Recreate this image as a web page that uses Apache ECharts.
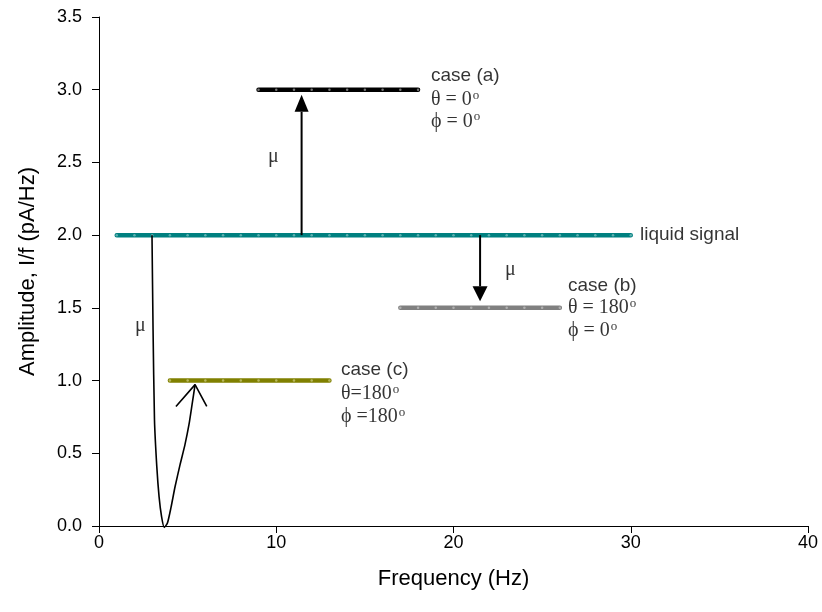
<!DOCTYPE html>
<html>
<head>
<meta charset="utf-8">
<script src="https://cdn.jsdelivr.net/npm/echarts@6/dist/echarts.min.js"></script>
<style>html,body{margin:0;padding:0;background:#fff}#c{width:822px;height:612px}</style>
</head>
<body>
<div id="c"></div>
<script>
// ---- data ----
const xTicks = [0, 10, 20, 30, 40];
const yTicks = [0, 0.5, 1.0, 1.5, 2.0, 2.5, 3.0, 3.5];

// horizontal level lines (data points every 1 Hz)
const caseAX = [9, 10, 11, 12, 13, 14, 15, 16, 17, 18];
const caseAY = [3, 3, 3, 3, 3, 3, 3, 3, 3, 3];
const liquidX = [1, 2, 3, 4, 5, 6, 7, 8, 9, 10, 11, 12, 13, 14, 15, 16, 17, 18, 19, 20, 21, 22, 23, 24, 25, 26, 27, 28, 29, 30];
const liquidY = [2, 2, 2, 2, 2, 2, 2, 2, 2, 2, 2, 2, 2, 2, 2, 2, 2, 2, 2, 2, 2, 2, 2, 2, 2, 2, 2, 2, 2, 2];
const caseBX = [17, 18, 19, 20, 21, 22, 23, 24, 25, 26];
const caseBY = [1.5, 1.5, 1.5, 1.5, 1.5, 1.5, 1.5, 1.5, 1.5, 1.5];
const caseCX = [4, 5, 6, 7, 8, 9, 10, 11, 12, 13];
const caseCY = [1, 1, 1, 1, 1, 1, 1, 1, 1, 1];

// straight arrows: [x0, y0, x1(tip), y1(tip)]
const arrowUp = [11.43, 2.0, 11.43, 2.965];
const arrowDown = [21.5, 2.0, 21.5, 1.545];

// curved arrow path (data coords)
const curveX = [2.99, 3.05, 3.13, 3.26, 3.39, 3.53, 3.68, 3.86, 4.06, 4.29, 4.57, 4.85, 5.08, 5.25, 5.42];
const curveY = [2.0, 1.35, 0.731, 0.41, 0.20, 0.064, -0.01, 0.02, 0.126, 0.27, 0.42, 0.56, 0.70, 0.835, 0.972];
const curveHeadX = [4.34, 5.42, 6.08];
const curveHeadY = [0.822, 0.972, 0.822];

// annotations
const sansX = [18.73, 30.52, 26.46, 13.65];
const sansY = [3.097, 2.0, 1.653, 1.075];
const sansText = ['case (a)', 'liquid signal', 'case (b)', 'case (c)'];

const serifX = [18.73, 18.73, 9.53, 22.9, 26.46, 26.46, 2.03, 13.65, 13.65];
const serifY = [2.932, 2.781, 2.54, 1.763, 1.501, 1.343, 1.378, 0.910, 0.752];
const serifText = ['θ = 0{s|o}', 'ϕ = 0{s|o}', 'μ', 'μ', 'θ = 180{s|o}', 'ϕ = 0{s|o}', 'μ', 'θ=180{s|o}', 'ϕ =180{s|o}'];

const zip = (xs, ys) => xs.map((x, i) => [x, ys[i]]);

const chart = echarts.init(document.getElementById('c'), null, {renderer: 'canvas'});

function levelSeries(xs, ys, color, dot) {
  return {
    type: 'line', data: zip(xs, ys), symbol: 'circle', symbolSize: 2.5,
    itemStyle: {color: dot}, lineStyle: {color: color, width: 4.5, cap: 'round'},
    showSymbol: true, silent: true, z: 3
  };
}

function arrowSeries(a, headW, headH) {
  return {
    type: 'custom', data: [a], z: 5, silent: true, clip: false,
    renderItem: function (params, api) {
      const p0 = api.coord([api.value(0), api.value(1)]);
      const p1 = api.coord([api.value(2), api.value(3)]);
      const dx = p1[0] - p0[0], dy = p1[1] - p0[1];
      const len = Math.sqrt(dx * dx + dy * dy);
      const ux = dx / len, uy = dy / len;
      const bx = p1[0] - ux * headH, by = p1[1] - uy * headH;
      const nx = -uy, ny = ux;
      return {
        type: 'group', children: [
          {type: 'line', shape: {x1: p0[0], y1: p0[1], x2: bx, y2: by}, style: {stroke: '#000', lineWidth: 2}},
          {type: 'polygon', shape: {points: [[p1[0], p1[1]], [bx + nx * headW / 2, by + ny * headW / 2], [bx - nx * headW / 2, by - ny * headW / 2]]}, style: {fill: '#000'}}
        ]
      };
    }
  };
}

chart.setOption({
  animation: false,
  backgroundColor: '#fff',
  grid: {left: 99, right: 14, top: 17, bottom: 86, containLabel: false},
  xAxis: [{
    type: 'value', min: xTicks[0], max: xTicks[xTicks.length - 1], interval: 10,
    name: 'Frequency (Hz)', nameLocation: 'middle', nameGap: 42,
    nameTextStyle: {fontFamily: 'Liberation Sans', fontSize: 22, color: '#000'},
    axisLine: {show: true, onZero: false, lineStyle: {color: '#000', width: 1}},
    axisTick: {show: true, length: 7, lineStyle: {color: '#000'}},
    axisLabel: {fontFamily: 'Liberation Sans', fontSize: 18, color: '#000', margin: 8},
    splitLine: {show: false}
  }, {
    type: 'value', position: 'top', min: 0, max: 40,
    axisLine: {show: true, lineStyle: {color: '#000', width: 1}},
    axisTick: {show: false}, axisLabel: {show: false}, splitLine: {show: false}
  }],
  yAxis: [{
    type: 'value', min: yTicks[0], max: yTicks[yTicks.length - 1], interval: 0.5,
    name: 'Amplitude, I/f (pA/Hz)', nameLocation: 'middle', nameGap: 60,
    nameTextStyle: {fontFamily: 'Liberation Sans', fontSize: 22, color: '#000'},
    axisLine: {show: true, onZero: false, lineStyle: {color: '#000', width: 1}},
    axisTick: {show: true, length: 7, lineStyle: {color: '#000'}},
    axisLabel: {fontFamily: 'Liberation Sans', fontSize: 18, color: '#000', margin: 17,
      formatter: v => v.toFixed(1)},
    splitLine: {show: false}
  }],
  series: [
    levelSeries(liquidX, liquidY, '#008080', '#5fb0b0'),
    levelSeries(caseAX, caseAY, '#000000', '#777777'),
    levelSeries(caseBX, caseBY, '#808080', '#b0b0b0'),
    levelSeries(caseCX, caseCY, '#808000', '#b8b860'),
    {
      type: 'line', data: zip(curveX, curveY), smooth: 0.2, symbol: 'none', clip: false,
      lineStyle: {color: '#000', width: 1.6}, silent: true, z: 4
    },
    {
      type: 'line', data: zip(curveHeadX, curveHeadY), symbol: 'none', clip: false,
      lineStyle: {color: '#000', width: 1.6}, silent: true, z: 4
    },
    arrowSeries(arrowUp, 14, 17),
    arrowSeries(arrowDown, 15, 15),
    {
      type: 'scatter', data: zip(sansX, sansY), symbolSize: 0, silent: true, z: 6,
      label: {show: true, position: 'right', distance: 0, color: '#000',
        fontFamily: 'Liberation Sans', fontSize: 19,
        formatter: p => sansText[p.dataIndex]}
    },
    {
      type: 'scatter', data: zip(serifX, serifY), symbolSize: 0, silent: true, z: 6,
      label: {show: true, position: 'right', distance: 0, color: '#000',
        fontFamily: 'Liberation Serif', fontSize: 20, lineHeight: 22,
        formatter: p => serifText[p.dataIndex],
        rich: {s: {fontFamily: 'Liberation Serif', fontSize: 13, lineHeight: 12, verticalAlign: 'top', color: '#000', padding: [0, 0, 0, 1]}}}
    }
  ]
});
</script>
</body>
</html>
